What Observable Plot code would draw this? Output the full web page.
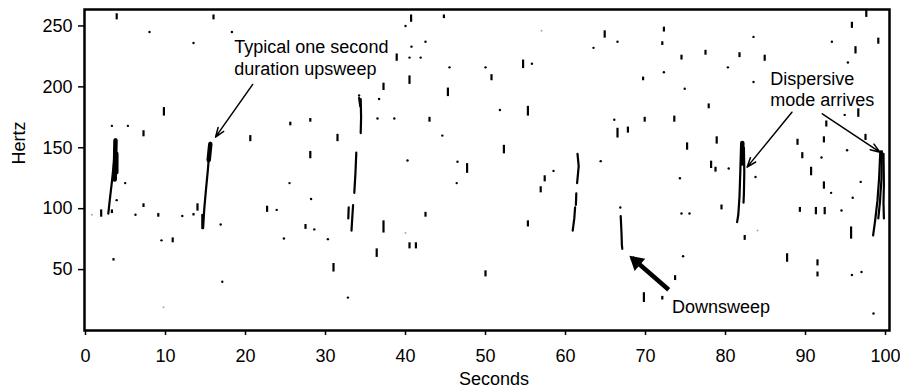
<!DOCTYPE html>
<html>
<head>
<meta charset="utf-8">
<script src="https://cdn.jsdelivr.net/npm/d3@7"></script>
<script src="https://cdn.jsdelivr.net/npm/@observablehq/plot@0.6"></script>
<style>
  html, body { margin: 0; padding: 0; background: #fff; }
  #chart { width: 900px; height: 389px; }
</style>
</head>
<body>
<div id="chart"></div>
<script>
// ---- Data (seconds, hertz) ----
const xTicks = [0, 10, 20, 30, 40, 50, 60, 70, 80, 90, 100];
const yTicks = [50, 100, 150, 200, 250];

// short vertical call fragments: [time, lowHz, highHz]
const dashes = [
  [3.9,255,260],[16.0,255,259],[9.8,176,183],[7.25,159,164],[1.96,93,99],[3.3,96,99],
  [7.25,101,104],[9.1,93,96],[13.5,94,96],[14.0,98,104],[10.9,72,76],[3.5,57,59],
  [25.6,168,171],[28.1,171,174],[20.6,155,160],[31.5,155,161],[28.1,141,147],[22.7,97,102],
  [27.5,83,87],[31.0,48,55],[40.7,253,259],[44.8,256,259],[38.9,221,227],[40.5,202,209],
  [37.25,197,203],[45.3,192,199],[43.0,171,175],[47.7,129,137],[42.5,93,97],[37.25,80,90],
  [40.5,67,72],[41.3,67,72],[36.4,60,67],[50.0,44,49],[64.9,240,246],[54.7,215,222],
  [50.75,205,210],[55.3,176,184],[66.5,158,166],[52.3,145,152],[57.4,122,127],[56.9,113,118],
  [55.3,85,90],[72.3,245,249],[72.1,234,237],[74.5,222,226],[77.5,226,230],[81.75,224,228],
  [69.7,205,208],[77.9,182,186],[69.9,171,175],[73.6,171,176],[67.8,162,167],[75.2,148,154],
  [78.9,153,159],[78.2,133,139],[78.75,130,134],[79.5,99,103],[82.4,74,78],[73.7,41,45],
  [69.8,23,31],[72.1,25,28],[97.6,257,263.5],[95.8,248,253],[99.1,235,240],[96.25,227,233],
  [84.9,221,226],[92.6,167,172],[96.6,175,182],[97.5,156,161],[89.0,152,157],[92.3,154,159],
  [89.6,141,146],[90.7,127,134],[92.3,116,122],[89.3,97,101],[91.3,95,101],[92.4,95,101],
  [95.7,75,85],[87.7,56,63],[91.5,53,58],[91.5,44,48]
];

// isolated specks: [time, Hz]
const specks = [
  [8.0,245],[13.5,236],[3.3,168],[5.3,168],[4.96,121],[3.9,107],[6.25,95],[12.1,94],[16.9,87],[9.5,74],
  [18.3,245],[25.5,121],[28.2,108],[23.9,99],[28.6,83],[24.8,75.5],[30.3,75],[32.8,27],[17.1,40],
  [40.0,250],[42.5,237],[40.75,233],[40.5,224],[41.9,224],[45.5,216],[50.0,216],[34.2,193],[36.7,190],
  [36.5,174],[38.6,174],[44.6,160],[40.25,139.5],[46.5,138.5],[46.4,121],
  [66.5,237],[63.5,232],[55.8,219],[51.8,181],[66.1,173],[64.4,139],[58.5,131],[66.85,101],
  [80.3,216],[83.5,241],[83.5,204],[72.3,212],[74.9,198.5],[83.75,126],[80.4,133],[74.3,125],
  [74.5,96],[75.5,96],[74.7,61],
  [93.3,237],[95.3,220],[94.9,177],[95.2,148],[92.0,142],[93.2,113],[96.9,122],[95.9,109],
  [94.5,98.5],[95.8,45.5],[97.0,48],[98.5,14]
];
const faintSpecks = [[0.8,95],[9.75,19],[40.0,80],[57.0,246],[84.0,82]];

// sweeps: each is a list of strands, each strand a list of [time, Hz]
const upsweep03 = [
  [[2.85,96],[3.05,108],[3.3,122],[3.55,138],[3.75,157]]
];
const upsweep15 = [
  [[14.7,84],[14.85,100],[15.05,115],[15.3,132],[15.45,145],[15.6,154]],
  [[14.6,84],[14.6,95]]
];
const upsweep33 = [
  [[33.25,82],[33.35,93],[33.45,103]],
  [[32.85,92],[32.9,101]],
  [[33.6,113],[33.75,130],[33.85,146]],
  [[34.4,162],[34.45,175],[34.4,190]],
  [[34.2,191],[34.35,184]]
];
const upsweep61 = [
  [[61.5,145],[61.65,135],[61.55,128],[61.45,121]],
  [[61.35,112.5],[61.3,103]],
  [[61.2,101],[61.1,92],[60.9,82]]
];
const downsweep67 = [
  [[66.9,94],[67.0,80],[67.05,70],[67.1,67]]
];
const dispersive82 = [
  [[81.95,153],[81.85,130],[81.75,110],[81.6,95],[81.45,89]],
  [[82.3,150],[82.35,130],[82.3,112],[82.25,105]]
];
const dispersive99 = [
  [[99.35,147],[99.2,125],[99.0,107],[98.7,90],[98.45,78]],
  [[99.55,147],[99.5,125],[99.3,105],[99.1,92]],
  [[99.75,145],[99.8,120],[99.75,105],[99.8,92]]
];
// dense (loud) cores of the sweeps
const sweepCores = [
  [[3.65,124],[3.75,156]],
  [[3.85,130],[3.85,145]],
  [[15.4,140],[15.6,153]],
  [[82.1,137],[82.1,154]]
];

// annotations
const noteLabels = ["Typical one second\nduration upsweep", "Dispersive\nmode arrives", "Downsweep"];
const noteTime = [18.6, 85.6, 73.3];
const noteFreq = [240.4, 214.5, 26.9];
const pointerFrom = [[20.9,202],[88.3,179.2],[92.1,177.9]];
const pointerTo = [[16.25,158.7],[82.7,134.1],[99.3,146.4]];
const boldFrom = [[72.9,33.4]];
const boldTo = [[68.3,59.7]];

// ---- build tables ----
const sweepRows = [];
[upsweep03, upsweep15, upsweep33, upsweep61, downsweep67, dispersive82, dispersive99].forEach((sw, i) => {
  sw.forEach((strand, j) => strand.forEach(([t, f]) => sweepRows.push({id: `${i}-${j}`, t, f})));
});
const coreRows = [];
sweepCores.forEach((strand, j) => strand.forEach(([t, f]) => coreRows.push({id: j, t, f})));
const notes = noteLabels.map((text, i) => ({text, t: noteTime[i], f: noteFreq[i]}));
const pointers = pointerFrom.map((p, i) => ({x1: p[0], y1: p[1], x2: pointerTo[i][0], y2: pointerTo[i][1]}));
const bolds = boldFrom.map((p, i) => ({x1: p[0], y1: p[1], x2: boldTo[i][0], y2: boldTo[i][1]}));

const FONT = "'Liberation Sans', Arial, Helvetica, sans-serif";

const chart = Plot.plot({
  width: 900,
  height: 389,
  marginLeft: 84,
  marginRight: 11,
  marginTop: 9,
  marginBottom: 59,
  style: {fontFamily: FONT, fontSize: "18px", background: "#fff", color: "#000", overflow: "visible"},
  x: {domain: [-0.125, 100.5]},
  y: {domain: [0, 263.5]},
  marks: [
    Plot.ruleX(dashes, {x: d => d[0], y1: d => d[1], y2: d => d[2], stroke: "#000", strokeWidth: 2.2}),
    Plot.dot(specks, {x: d => d[0], y: d => d[1], r: 1.2, fill: "#000", stroke: null}),
    Plot.dot(faintSpecks, {x: d => d[0], y: d => d[1], r: 1, fill: "#aaa", stroke: null}),
    Plot.line(sweepRows, {x: "t", y: "f", z: "id", stroke: "#000", strokeWidth: 2.2, strokeLinejoin: "round"}),
    Plot.line(coreRows, {x: "t", y: "f", z: "id", stroke: "#000", strokeWidth: 4.5, strokeLinecap: "round"}),
    Plot.arrow(pointers, {x1: "x1", y1: "y1", x2: "x2", y2: "y2", stroke: "#000", strokeWidth: 1.5, headLength: 10, headAngle: 40}),
    Plot.link(bolds, {x1: "x1", y1: "y1", x2: "x2", y2: "y2", stroke: "#000", strokeWidth: 4.5, insetEnd: 6}),
    Plot.dot(bolds, {x: "x2", y: "y2", symbol: "triangle", r: 6, rotate: -49, dx: 4.5, dy: 4, fill: "#000", stroke: null}),
    Plot.text(notes, {x: "t", y: "f", text: "text", textAnchor: "start", lineAnchor: "top", lineHeight: 1.2, fontSize: 18, fill: "#000"}),
    Plot.frame({stroke: "#000", strokeWidth: 2.5}),
    Plot.axisX({ticks: xTicks, tickSize: 5, tickPadding: 14, tickFormat: d => d, label: null, fontSize: 18, strokeWidth: 1.5}),
    Plot.axisY({ticks: yTicks, tickSize: 6, tickPadding: 6, tickFormat: d => d, label: null, fontSize: 18, strokeWidth: 1.5}),
    Plot.text(["Seconds"], {frameAnchor: "bottom", textAnchor: "middle", lineAnchor: "middle", dx: 7, dy: 48.5, text: d => d, fontSize: 18, fill: "#000"}),
    Plot.text(["Hertz"], {frameAnchor: "left", textAnchor: "middle", lineAnchor: "middle", dx: -65, dy: -27, rotate: -90, text: d => d, fontSize: 18, fill: "#000"})
  ]
});
document.getElementById("chart").appendChild(chart);
</script>
</body>
</html>
